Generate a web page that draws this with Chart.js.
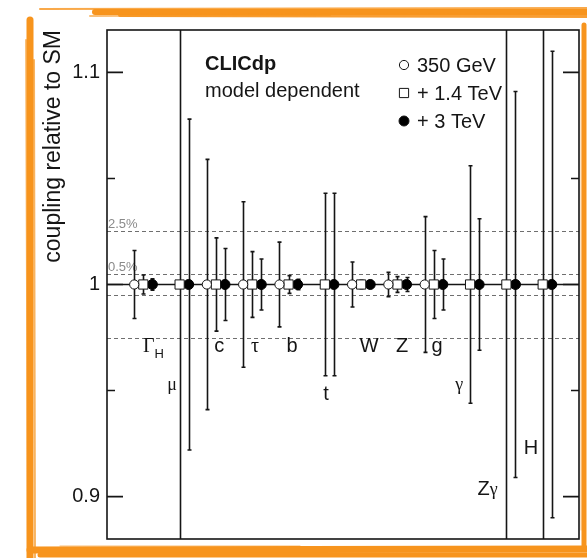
<!DOCTYPE html>
<html>
<head>
<meta charset="utf-8">
<script src="https://cdn.jsdelivr.net/npm/chart.js@4.4.1/dist/chart.umd.min.js"></script>
<style>
  html, body { margin: 0; padding: 0; background: #fff; }
  #chart { display: block; }
</style>
</head>
<body>
<canvas id="chart" width="587" height="558"></canvas>
<script>
// Higgs couplings relative to SM, model dependent fit (all centred on 1)
const couplings = ['ΓH', 'μ', 'c', 'τ', 'b', 't', 'W', 'Z', 'g', 'γ', 'Zγ', 'H'];
const centralValues = [1, 1, 1, 1, 1, 1, 1, 1, 1, 1, 1, 1];
// relative 1 sigma uncertainties per energy stage (null = not measured)
const err350 = [0.016, null, 0.059, 0.039, 0.020, null, 0.0106, 0.0057, 0.032, null, null, null];
const err1400 = [0.0045, 0.14, 0.022, 0.0155, 0.0042, 0.043, 0.0020, 0.0037, 0.016, 0.056, 0.13, 0.22];
const err3000 = [0.0027, 0.078, 0.017, 0.012, 0.0025, 0.043, 0.0018, 0.0033, 0.012, 0.031, 0.091, 0.11];
const stageNames = ['350 GeV', '+ 1.4 TeV', '+ 3 TeV'];

const yTicks = [0.9, 1, 1.1];
const yMinorTicks = [0.95, 1.05];
const bandLines = [0.975, 0.995, 1.005, 1.025];
const bandLabels = ['2.5%', '0.5%'];
const bandLabelValues = [1.025, 1.005];

// where the coupling names sit (x in group units, y = text baseline in axis units)
const nameX = [1.28, 1.79, 3.09, 4.08, 5.1, 6.03, 7.22, 8.13, 9.09, 9.7, 10.48, 11.68];
const nameY = [0.968, 0.9504, 0.968, 0.968, 0.968, 0.9457, 0.968, 0.968, 0.968, 0.9504, 0.9006, 0.9203];

const INK = '#151515';
const SANS = '"Liberation Sans", Arial, Helvetica, sans-serif';
const SERIF = '"Liberation Serif", "Times New Roman", serif';

function stagePoints(errors, shift) {
    const pts = [];
    errors.forEach((e, i) => {
        if (e === null) return;
        pts.push({ x: i + 1 + shift, y: centralValues[i], err: e });
    });
    return pts;
}

// dashed bands, line at 1 and the error bars, drawn under the markers
const errorBarPlugin = {
    id: 'errorBars',
    beforeDatasetsDraw(chart) {
        const { ctx, chartArea: a, scales: { y } } = chart;
        ctx.save();

        ctx.strokeStyle = '#6f6f6f';
        ctx.lineWidth = 1;
        ctx.setLineDash([4, 3]);
        bandLines.forEach(v => {
            const py = Math.round(y.getPixelForValue(v)) + 0.5;
            ctx.beginPath();
            ctx.moveTo(a.left, py);
            ctx.lineTo(a.right, py);
            ctx.stroke();
        });
        ctx.setLineDash([]);

        ctx.fillStyle = '#8a8a8a';
        ctx.font = '13px ' + SANS;
        ctx.textAlign = 'left';
        ctx.textBaseline = 'alphabetic';
        bandLabels.forEach((t, i) => {
            ctx.fillText(t, a.left + 1, y.getPixelForValue(bandLabelValues[i]) - 3);
        });

        ctx.strokeStyle = INK;
        ctx.lineWidth = 1.6;
        const p1 = y.getPixelForValue(1);
        ctx.beginPath();
        ctx.moveTo(a.left, p1);
        ctx.lineTo(a.right, p1);
        ctx.stroke();

        ctx.beginPath();
        ctx.rect(a.left, a.top, a.right - a.left, a.bottom - a.top);
        ctx.clip();
        chart.data.datasets.forEach((ds, di) => {
            const meta = chart.getDatasetMeta(di);
            meta.data.forEach((el, i) => {
                const pt = ds.data[i];
                const x = Math.round(el.x) + 0.5;
                const top = y.getPixelForValue(pt.y + pt.err);
                const bot = y.getPixelForValue(pt.y - pt.err);
                ctx.beginPath();
                ctx.moveTo(x, Math.max(top, a.top - 2));
                ctx.lineTo(x, Math.min(bot, a.bottom + 2));
                [top, bot].forEach(py => {
                    if (py > a.top && py < a.bottom) {
                        ctx.moveTo(x - 2, py);
                        ctx.lineTo(x + 2, py);
                    }
                });
                ctx.stroke();
            });
        });
        ctx.restore();
    }
};

// frame, inward ticks, names, legend, CLICdp label and the orange brush frame
const decorPlugin = {
    id: 'decor',
    afterDatasetsDraw(chart) {
        const { ctx, chartArea: a, scales: { x, y } } = chart;
        ctx.save();
        ctx.strokeStyle = INK;
        ctx.lineWidth = 1.6;
        ctx.strokeRect(a.left, a.top, a.right - a.left, a.bottom - a.top);

        const tick = (v, len) => {
            const py = y.getPixelForValue(v);
            ctx.beginPath();
            ctx.moveTo(a.left, py);
            ctx.lineTo(a.left + len, py);
            ctx.moveTo(a.right, py);
            ctx.lineTo(a.right - len, py);
            ctx.stroke();
        };
        yTicks.forEach(v => tick(v, 16));
        yMinorTicks.forEach(v => tick(v, 8));

        // coupling names
        ctx.fillStyle = INK;
        ctx.textBaseline = 'alphabetic';
        couplings.forEach((name, i) => {
            const px = x.getPixelForValue(nameX[i]);
            const py = y.getPixelForValue(nameY[i]);
            let parts;
            if (name === 'ΓH') parts = [['Γ', '20px ' + SERIF, 0], ['H', '13px ' + SANS, 6]];
            else if (name === 'Zγ') parts = [['Z', '20px ' + SANS, 0], ['γ', '18px ' + SERIF, 0]];
            else if (name === 'μ' || name === 'γ') parts = [[name, '18px ' + SERIF, 0]];
            else if (name === 'τ') parts = [[name, '20px ' + SERIF, 0]];
            else parts = [[name, '20px ' + SANS, 0]];
            let w = 0;
            parts.forEach(p => { ctx.font = p[1]; w += ctx.measureText(p[0]).width; });
            let cx = px - w / 2;
            ctx.textAlign = 'left';
            parts.forEach(p => {
                ctx.font = p[1];
                ctx.fillText(p[0], cx, py + p[2]);
                cx += ctx.measureText(p[0]).width;
            });
        });

        // CLICdp label
        ctx.font = 'bold 20px ' + SANS;
        ctx.fillText('CLICdp', 205, 70);
        ctx.font = '20px ' + SANS;
        ctx.fillText('model dependent', 205, 97);

        // legend
        chart.data.datasets.forEach((ds, i) => {
            const ly = 65 + i * 28;
            ctx.lineWidth = 1;
            ctx.strokeStyle = INK;
            ctx.fillStyle = ds.pointBackgroundColor;
            Chart.helpers.drawPoint(ctx, {
                pointStyle: ds.pointStyle, radius: ds.pointRadius, borderWidth: 1
            }, 404, ly);
            ctx.fillStyle = INK;
            ctx.font = '20px ' + SANS;
            ctx.fillText(stageNames[i], 417, ly + 7);
        });
        ctx.restore();
    },
    afterDraw(chart) {
        const ctx = chart.ctx;
        const strokes = [
            [40, 9, 587, 8, 2, 0.8], [95, 12, 587, 12, 6, 1], [120, 15, 587, 16, 4, 0.9],
            [90, 16, 330, 15, 2, 0.6],
            [30, 20, 30, 558, 7, 1], [26, 40, 28, 540, 2, 0.6], [34, 60, 35, 558, 2, 0.7],
            [30, 550, 587, 549, 7, 1], [40, 555, 587, 555, 5, 1], [60, 546, 300, 546, 1, 0.6],
            [584, 25, 584, 548, 5, 1], [581, 60, 581, 530, 1, 0.5]
        ];
        ctx.save();
        ctx.strokeStyle = '#f7941d';
        ctx.lineCap = 'round';
        strokes.forEach(s => {
            ctx.globalAlpha = s[5];
            ctx.lineWidth = s[4];
            ctx.beginPath();
            ctx.moveTo(s[0], s[1]);
            ctx.lineTo(s[2], s[3]);
            ctx.stroke();
        });
        ctx.restore();
    }
};

const ctx = document.getElementById('chart');
new Chart(ctx, {
    type: 'scatter',
    data: {
        datasets: [
            {
                label: stageNames[0],
                data: stagePoints(err350, -0.25),
                pointStyle: 'circle',
                pointRadius: 4.6,
                pointBackgroundColor: '#ffffff',
                pointBorderColor: INK,
                pointBorderWidth: 1
            },
            {
                label: stageNames[1],
                data: stagePoints(err1400, 0),
                pointStyle: 'rect',
                pointRadius: 6.5,
                pointBackgroundColor: '#ffffff',
                pointBorderColor: INK,
                pointBorderWidth: 1
            },
            {
                label: stageNames[2],
                data: stagePoints(err3000, 0.25),
                pointStyle: 'circle',
                pointRadius: 5,
                pointBackgroundColor: '#000000',
                pointBorderColor: '#000000',
                pointBorderWidth: 1
            }
        ]
    },
    options: {
        responsive: false,
        animation: false,
        layout: { padding: { left: 0, top: 30, right: 8, bottom: 17 } },
        plugins: {
            legend: { display: false },
            tooltip: { enabled: false }
        },
        scales: {
            x: {
                type: 'linear',
                min: 0,
                max: 13,
                display: false
            },
            y: {
                min: 0.88,
                max: 1.12,
                position: 'left',
                grid: { display: false, drawTicks: false },
                border: { display: false },
                afterBuildTicks: (scale) => {
                    scale.ticks = yTicks.map(v => ({ value: v }));
                },
                afterFit: (scale) => {
                    scale.width = 107;
                },
                ticks: {
                    color: INK,
                    padding: 7,
                    font: { family: SANS, size: 20 },
                    callback: (v) => String(v)
                },
                title: {
                    display: true,
                    text: 'coupling relative to SM',
                    align: 'end',
                    color: INK,
                    font: { family: SANS, size: 23 },
                    padding: { top: 40 }
                }
            }
        }
    },
    plugins: [errorBarPlugin, decorPlugin]
});
</script>
</body>
</html>
